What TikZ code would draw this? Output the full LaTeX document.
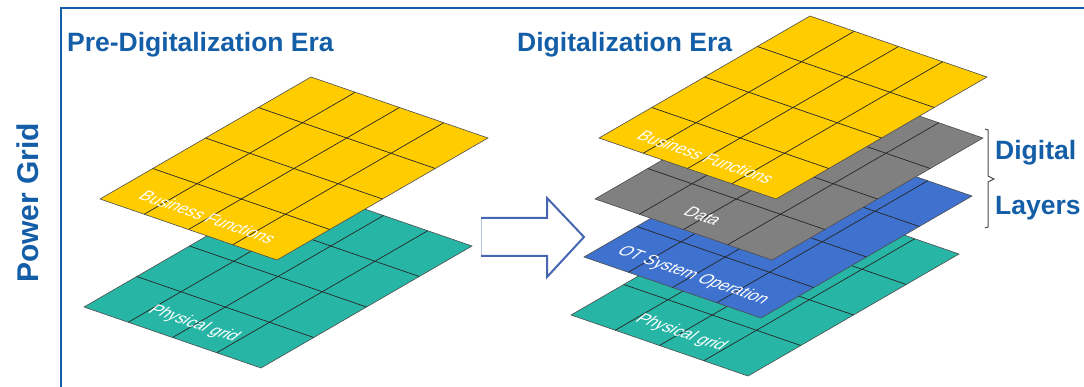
\documentclass[tikz,border=0pt]{standalone}
\usepackage{fontspec}
\setmainfont{Liberation Sans}
\usepackage{xcolor}
\definecolor{titleblue}{RGB}{20,94,168}
\definecolor{bizyellow}{RGB}{255,204,0}
\definecolor{gridteal}{RGB}{39,182,165}
\definecolor{datagray}{RGB}{128,128,128}
\definecolor{otblue}{RGB}{63,114,206}
\definecolor{arrowblue}{RGB}{70,102,178}

\tikzset{
  gridline/.style={black!85, line width=0.7pt},
  layertext/.style={white, inner sep=0pt, font=\fontsize{16}{16}\selectfont, rotate=-19, xslant=0.6},
  heading/.style={titleblue, inner sep=0pt, font=\fontsize{26.5}{30}\selectfont\bfseries, anchor=base west}
}

% one flat 4x4 layer, #1 = left corner, #2 = fill
\newcommand{\gridlayer}[2]{%
  \begin{scope}[shift={#1}, x={(177pt,-61pt)}, y={(211pt,122pt)}]
    \filldraw[fill=#2, draw=black!70, line width=0.6pt] (0,0) -- (1,0) -- (1,1) -- (0,1) -- cycle;
    \foreach \t in {0.25,0.5,0.75} {
      \draw[gridline] (\t,0) -- (\t,1);
      \draw[gridline] (0,\t) -- (1,\t);
    }
  \end{scope}}

\begin{document}
\begin{tikzpicture}[x=1pt, y=-1pt]
        \useasboundingbox (0,0) rectangle (1084,387);
        \draw[titleblue, line width=1.5pt] (61,387) -- (61,8) -- (1084,8);
        \node[heading, rotate=90, font=\fontsize{30}{32}\selectfont\bfseries] (A) at (38,283) {Power Grid};
        \node[heading] (B) at (67,52) {Pre-Digitalization Era};
        \node[heading] (C) at (517,52) {Digitalization Era};
        % before
        \gridlayer{(84,307)}{gridteal}
        \node[layertext] (D) at (194,324) {Physical grid};
        \gridlayer{(100,199)}{bizyellow}
        \node[layertext] (E) at (208,217) {Business Functions};
        % arrow
        \draw[arrowblue!40, line width=0.8pt] (481,218) -- (481,256);
        \draw[arrowblue, line width=2pt, line join=miter] (481,218) -- (547,218) -- (547,198) -- (584,237) -- (547,277) -- (547,256) -- (481,256);
        % after
        \gridlayer{(571,315)}{gridteal}
        \node[layertext] (F) at (681,333) {Physical grid};
        \gridlayer{(584,257)}{otblue}
        \node[layertext] (G) at (693,276) {OT System Operation};
        \gridlayer{(595,199)}{datagray}
        \node[layertext] (H) at (703,216) {Data};
        \gridlayer{(599,138)}{bizyellow}
        \node[layertext] (I) at (706,157) {Business Functions};
        % digital layers
        \draw[black!70, line width=1pt] (985,129) -- (988,130) -- (988,176) -- (994,179) -- (988,182) -- (988,227) -- (985,228);
        \node[heading] (J) at (995,160) {Digital};
        \node[heading] (K) at (995,215) {Layers};
\end{tikzpicture}
\end{document}
